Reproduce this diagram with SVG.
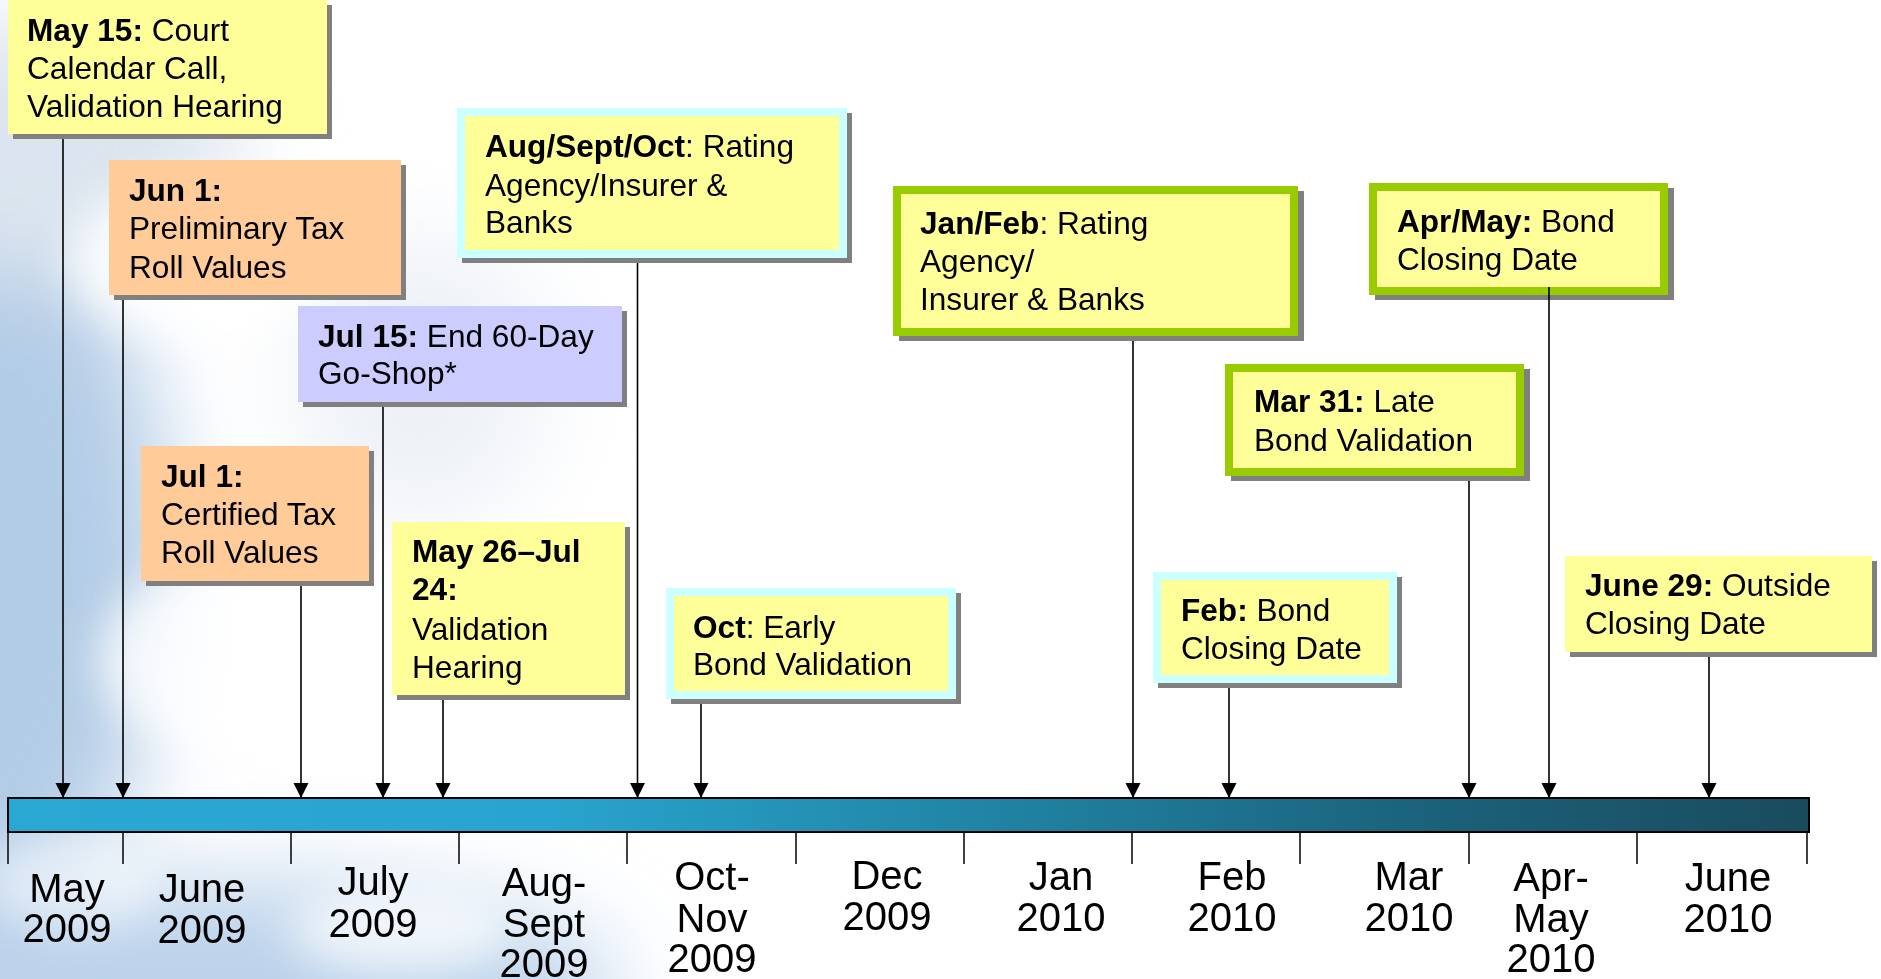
<svg xmlns="http://www.w3.org/2000/svg" width="1881" height="979" viewBox="0 0 1881 979">
<defs>
<style>
text{font-family:"Liberation Sans",Arial,sans-serif;font-size:31.6px;fill:#000}
.b{font-weight:bold}
.ax{font-size:40px;text-anchor:middle}
.sh{fill:#808080}
.yel{fill:#FFFF99}
.org{fill:#FFCC99}
.lav{fill:#CCCCFF}
.cy{fill:#FFFF99;stroke:#CCFFFF;stroke-width:8}
.gr{fill:#FFFF99;stroke:#99CC00;stroke-width:8}
.con{stroke:#000;stroke-width:1.6;fill:none;marker-end:url(#ah)}
.tick{stroke:#111;stroke-width:1.6}
</style>
<marker id="ah" markerUnits="userSpaceOnUse" viewBox="0 0 16 16" markerWidth="16" markerHeight="16" refX="15" refY="7.5" orient="auto">
<path d="M0,0 L15,7.5 L0,15 z" fill="#000"/>
</marker>
<linearGradient id="bar" x1="0" y1="0" x2="1" y2="0">
<stop offset="0" stop-color="#2AA8D4"/>
<stop offset="0.3" stop-color="#29A4CE"/>
<stop offset="0.55" stop-color="#2083A3"/>
<stop offset="0.8" stop-color="#1B6079"/>
<stop offset="1" stop-color="#1A4B5D"/>
</linearGradient>
<filter id="blur" x="-50%" y="-50%" width="200%" height="200%"><feGaussianBlur stdDeviation="45"/></filter>
<filter id="blur2" x="-50%" y="-50%" width="200%" height="200%"><feGaussianBlur stdDeviation="22"/></filter>
</defs>
<rect width="1881" height="979" fill="#FFFFFF"/>
<g id="sky">
<g filter="url(#blur)">
<ellipse cx="-20" cy="560" rx="190" ry="360" fill="#B3CCE6"/>
<ellipse cx="200" cy="990" rx="420" ry="110" fill="#BCD3EB"/>
<ellipse cx="40" cy="150" rx="200" ry="130" fill="#DCE5EF"/>
<ellipse cx="420" cy="380" rx="130" ry="150" fill="#EEF2F7"/>
</g>
<g filter="url(#blur2)" fill="#FFFFFF">
<ellipse cx="200" cy="260" rx="130" ry="80" opacity="0.85"/>
<ellipse cx="250" cy="660" rx="150" ry="100" opacity="0.8"/>
<ellipse cx="70" cy="880" rx="90" ry="50" opacity="0.55"/>
<ellipse cx="400" cy="930" rx="110" ry="45" opacity="0.7"/>
</g>
</g>
<g id="timeline">
<rect x="8" y="798" width="1801" height="34" fill="url(#bar)" stroke="#000" stroke-width="2"/>
<g class="tick">
<line x1="8" y1="832" x2="8" y2="864"/>
<line x1="123" y1="832" x2="123" y2="864"/>
<line x1="291" y1="832" x2="291" y2="864"/>
<line x1="459" y1="832" x2="459" y2="864"/>
<line x1="627" y1="832" x2="627" y2="864"/>
<line x1="796" y1="832" x2="796" y2="864"/>
<line x1="964" y1="832" x2="964" y2="864"/>
<line x1="1132" y1="832" x2="1132" y2="864"/>
<line x1="1300" y1="832" x2="1300" y2="864"/>
<line x1="1469" y1="832" x2="1469" y2="864"/>
<line x1="1637" y1="832" x2="1637" y2="864"/>
<line x1="1807" y1="832" x2="1807" y2="864"/>
</g>
<g id="axis-labels">
<text class="ax" x="67" y="902">May</text><text class="ax" x="67" y="942">2009</text>
<text class="ax" x="202" y="902">June</text><text class="ax" x="202" y="943">2009</text>
<text class="ax" x="373" y="895">July</text><text class="ax" x="373" y="937">2009</text>
<text class="ax" x="544" y="896">Aug-</text><text class="ax" x="544" y="937">Sept</text><text class="ax" x="544" y="977">2009</text>
<text class="ax" x="712" y="890">Oct-</text><text class="ax" x="712" y="932">Nov</text><text class="ax" x="712" y="972">2009</text>
<text class="ax" x="887" y="889">Dec</text><text class="ax" x="887" y="930">2009</text>
<text class="ax" x="1061" y="890">Jan</text><text class="ax" x="1061" y="931">2010</text>
<text class="ax" x="1232" y="890">Feb</text><text class="ax" x="1232" y="931">2010</text>
<text class="ax" x="1409" y="890">Mar</text><text class="ax" x="1409" y="931">2010</text>
<text class="ax" x="1551" y="891">Apr-</text><text class="ax" x="1551" y="932">May</text><text class="ax" x="1551" y="972">2010</text>
<text class="ax" x="1728" y="891">June</text><text class="ax" x="1728" y="932">2010</text>
</g>
</g>
<g id="node-may15">
<rect class="sh" x="13" y="5" width="319" height="134"/>
<rect class="yel" x="8" y="0" width="319" height="134"/>
<text x="27" y="41"><tspan class="b">May 15:</tspan> Court</text>
<text x="27" y="79">Calendar Call,</text>
<text x="27" y="117">Validation Hearing</text>
</g>
<g id="node-jun1">
<rect class="sh" x="114" y="165" width="292" height="135"/>
<rect class="org" x="109" y="160" width="292" height="135"/>
<text x="129" y="201" class="b">Jun 1:</text>
<text x="129" y="239">Preliminary Tax</text>
<text x="129" y="278">Roll Values</text>
</g>
<g id="node-jul15">
<rect class="sh" x="303" y="311" width="324" height="96"/>
<rect class="lav" x="298" y="306" width="324" height="96"/>
<text x="318" y="347"><tspan class="b">Jul 15:</tspan> End 60-Day</text>
<text x="318" y="384">Go-Shop*</text>
</g>
<g id="node-jul1">
<rect class="sh" x="146" y="451" width="228" height="135"/>
<rect class="org" x="141" y="446" width="228" height="135"/>
<text x="161" y="487" class="b">Jul 1:</text>
<text x="161" y="525">Certified Tax</text>
<text x="161" y="563">Roll Values</text>
</g>
<g id="node-may26">
<rect class="sh" x="397" y="527" width="233" height="173"/>
<rect class="yel" x="392" y="522" width="233" height="173"/>
<text x="412" y="562" class="b">May 26–Jul</text>
<text x="412" y="600" class="b">24:</text>
<text x="412" y="640">Validation</text>
<text x="412" y="678">Hearing</text>
</g>
<g id="node-augsepoct">
<rect class="sh" x="462" y="113" width="390" height="150"/>
<rect class="cy" x="461" y="112" width="382" height="142"/>
<text x="485" y="157"><tspan class="b">Aug/Sept/Oct</tspan>: Rating</text>
<text x="485" y="196">Agency/Insurer &amp;</text>
<text x="485" y="233">Banks</text>
</g>
<g id="node-oct">
<rect class="sh" x="671" y="593" width="290" height="111"/>
<rect class="cy" x="670" y="592" width="282" height="103"/>
<text x="693" y="638"><tspan class="b">Oct</tspan>: Early</text>
<text x="693" y="675">Bond Validation</text>
</g>
<g id="node-janfeb">
<rect class="sh" x="899" y="191" width="405" height="150"/>
<rect class="gr" x="897" y="190" width="397" height="142"/>
<text x="920" y="234"><tspan class="b">Jan/Feb</tspan>: Rating</text>
<text x="920" y="272">Agency/</text>
<text x="920" y="310">Insurer &amp; Banks</text>
</g>
<g id="node-aprmay">
<rect class="sh" x="1375" y="188" width="299" height="112"/>
<rect class="gr" x="1373" y="187" width="291" height="104"/>
<text x="1397" y="232"><tspan class="b">Apr/May:</tspan> Bond</text>
<text x="1397" y="270">Closing Date</text>
</g>
<g id="node-mar31">
<rect class="sh" x="1231" y="369" width="299" height="112"/>
<rect class="gr" x="1229" y="368" width="291" height="104"/>
<text x="1254" y="412"><tspan class="b">Mar 31:</tspan> Late</text>
<text x="1254" y="451">Bond Validation</text>
</g>
<g id="node-feb">
<rect class="sh" x="1158" y="577" width="244" height="111"/>
<rect class="cy" x="1157" y="576" width="236" height="103"/>
<text x="1181" y="621"><tspan class="b">Feb:</tspan> Bond</text>
<text x="1181" y="659">Closing Date</text>
</g>
<g id="node-jun29">
<rect class="sh" x="1570" y="561" width="307" height="96"/>
<rect class="yel" x="1565" y="556" width="307" height="96"/>
<text x="1585" y="596"><tspan class="b">June 29:</tspan> Outside</text>
<text x="1585" y="634">Closing Date</text>
</g>
<g id="connectors">
<line class="con" x1="63" y1="139" x2="63" y2="798"/>
<line class="con" x1="123" y1="300" x2="123" y2="798"/>
<line class="con" x1="301" y1="586" x2="301" y2="798"/>
<line class="con" x1="383" y1="407" x2="383" y2="798"/>
<line class="con" x1="443" y1="700" x2="443" y2="798"/>
<line class="con" x1="637.5" y1="263" x2="637.5" y2="798"/>
<line class="con" x1="701" y1="704" x2="701" y2="798"/>
<line class="con" x1="1133" y1="341" x2="1133" y2="798"/>
<line class="con" x1="1229" y1="688" x2="1229" y2="798"/>
<line class="con" x1="1469" y1="481" x2="1469" y2="798"/>
<line class="con" x1="1549" y1="287" x2="1549" y2="798"/>
<line class="con" x1="1709" y1="657" x2="1709" y2="798"/>
</g>
</svg>
